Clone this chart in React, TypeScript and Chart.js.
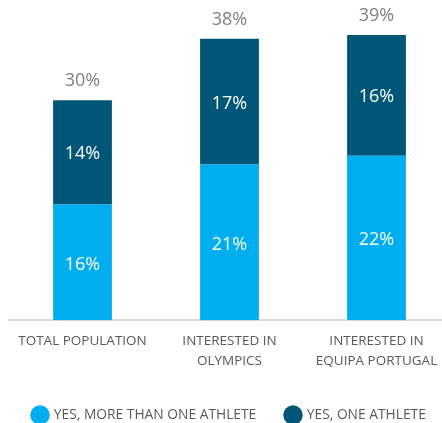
import React, { useEffect, useRef } from "react";
import { Chart, registerables } from "chart.js";

Chart.register(...registerables);

const categories: (string | string[])[] = [
  "TOTAL POPULATION",
  ["INTERESTED IN", "OLYMPICS"],
  ["INTERESTED IN", "EQUIPA PORTUGAL"],
];
const moreThanOne = [15.6, 21.0, 22.2];
const oneAthlete = [14.1, 17.0, 16.3];
const seriesNames = ["YES, MORE THAN ONE ATHLETE", "YES, ONE ATHLETE"];
const colors = ["#00AEEF", "#005677"];
const FONT = "'Open Sans', sans-serif";

const labelPlugin = {
  id: "labels",
  afterDatasetsDraw(chart: any) {
    const ctx = chart.ctx;
    ctx.save();
    ctx.font = `18px ${FONT}`;
    ctx.textAlign = "center";
    ctx.textBaseline = "middle";
    chart.data.datasets.forEach((ds: any, di: number) => {
      const meta = chart.getDatasetMeta(di);
      meta.data.forEach((bar: any, i: number) => {
        const v = ds.data[i];
        const mid = (bar.y + bar.base) / 2;
        ctx.fillStyle = "#ffffff";
        ctx.fillText(Math.round(v) + "%", bar.x, mid + 2);
      });
    });
    const topMeta = chart.getDatasetMeta(chart.data.datasets.length - 1);
    topMeta.data.forEach((bar: any, i: number) => {
      const total = moreThanOne[i] + oneAthlete[i];
      ctx.fillStyle = "#7F7F7F";
      ctx.fillText(Math.round(total) + "%", bar.x, bar.y - 19);
    });
    ctx.restore();
  },
};

export default function App() {
  const ref = useRef<HTMLCanvasElement>(null);
  useEffect(() => {
    if (!ref.current) return;
    const chart = new Chart(ref.current, {
      type: "bar",
      data: {
        labels: categories,
        datasets: [
          { label: seriesNames[0], data: moreThanOne, backgroundColor: colors[0] },
          { label: seriesNames[1], data: oneAthlete, backgroundColor: colors[1] },
        ],
      },
      options: {
        animation: false,
        responsive: false,
        maintainAspectRatio: false,
        layout: { padding: { left: 9, right: 0, top: 9, bottom: -9 } },
        datasets: { bar: { categoryPercentage: 1, barPercentage: 0.4 } },
        scales: {
          x: {
            stacked: true,
            grid: { display: false },
            border: { display: true, color: "#D9D9D9", width: 2 },
            afterFit: (scale: any) => {
              scale.height = 72;
            },
            ticks: {
              color: "#595959",
              font: { family: FONT, size: 13.5, lineHeight: 1.5 },
              padding: 3,
              maxRotation: 0,
              autoSkip: false,
            },
          },
          y: { stacked: true, display: false, min: 0, max: 42 },
        },
        plugins: {
          legend: {
            position: "bottom",
            labels: {
              usePointStyle: true,
              pointStyle: "circle",
              boxWidth: 14,
              boxHeight: 14,
              color: "#595959",
              font: { family: FONT, size: 13.8 },
              padding: 16,
              generateLabels: (c: any) => {
                const items = Chart.defaults.plugins.legend.labels.generateLabels(c);
                if (items[0]) items[0].text = items[0].text + "\u2002\u2002";
                return items;
              },
            },
          },
          tooltip: { enabled: false },
        },
      },
      plugins: [labelPlugin],
    });
    return () => chart.destroy();
  }, []);
  return (
    <div style={{ position: "absolute", left: 0, top: 0, width: 450, height: 423, background: "#fff" }}>
      <canvas ref={ref} width={450} height={423} style={{ display: "block" }} />
    </div>
  );
}
